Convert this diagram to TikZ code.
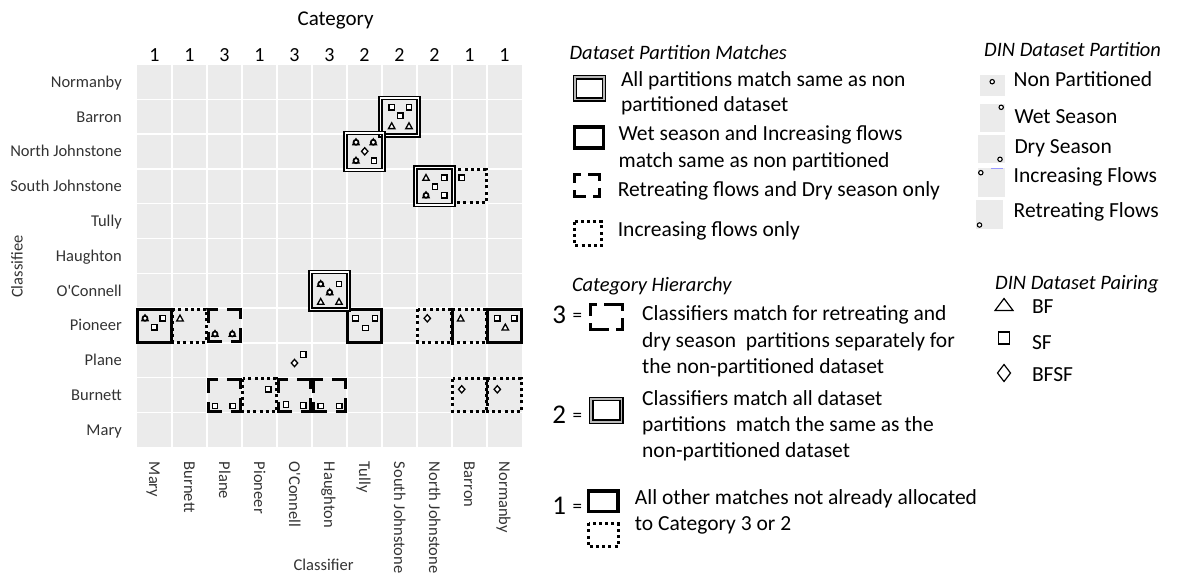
\documentclass[tikz,border=0pt]{standalone}
\usepackage{fontspec}
\setmainfont{Carlito}
\definecolor{gridbg}{HTML}{EBEBEB}
\newcommand{\mycell}[3]{\draw[#1] ({137+35*(#3)+0.9},{64.5+34.8*(#2)+0.9}) rectangle ++(33.2,33.0);}
\newcommand{\mydbl}[2]{\draw[dbl] ({137+35*(#2)-1.2},{64.5+34.8*(#1)-1.2}) rectangle ++(37.4,37.2);}
\newcommand{\mydshbox}[5]{%
  \draw[#5] (#1,#2) -- (#3,#2);
  \draw[#5] (#3,#2) -- (#3,#4);
  \draw[#5] (#3,#4) -- (#1,#4);
  \draw[#5] (#1,#4) -- (#1,#2);}
\newcommand{\mydshcell}[2]{%
  \pgfmathsetmacro\myxa{137+35*(#2)+1.5}%
  \pgfmathsetmacro\myya{64.5+34.8*(#1)+1.5}%
  \pgfmathsetmacro\myxb{\myxa+32}%
  \pgfmathsetmacro\myyb{\myya+31.8}%
  \mydshbox{\myxa}{\myya}{\myxb}{\myyb}{dshs}}
\begin{document}
\begin{tikzpicture}[x=1pt,y=-1pt,
  lbl/.style={font=\fontsize{16.5}{18}\selectfont, inner sep=0pt, text height=10.7pt, text depth=0pt, text=black!80},
  rowl/.style={lbl, anchor=east},
  coll/.style={lbl, anchor=west, rotate=-90},
  cat/.style={font=\fontsize{21}{24}\selectfont, inner sep=0pt, text height=13.6pt, text depth=0pt},
  digit/.style={font=\fontsize{20}{22}\selectfont, inner sep=0pt, text height=12.6pt, text depth=0pt},
  leg/.style={font=\fontsize{21.5}{24}\selectfont, inner sep=0pt, anchor=west, text height=13.9pt, text depth=0pt},
  hdr/.style={font=\fontsize{20.5}{24}\selectfont\itshape, inner sep=0pt, anchor=west, text height=13.2pt, text depth=0pt},
  big/.style={font=\fontsize{27}{30}\selectfont, inner sep=0pt, anchor=west, text height=17pt, text depth=0pt},
  eq/.style={font=\fontsize{19}{20}\selectfont, inner sep=0pt, anchor=west},
  thk/.style={draw=black, line width=3pt},
  dbl/.style={draw=black, line width=1.7pt, double=white, double distance=1.3pt},
  legdbl/.style={draw=black, line width=1.4pt, double=gray!55, double distance=1.8pt},
  dshs/.style={draw=black, line width=3pt, line cap=rect, dash pattern=on 8pt off 12pt on 20pt off 1pt},
  legdshs/.style={draw=black, line width=3pt, line cap=rect, dash pattern=on 5pt off 10pt on 20pt off 1pt},
  dtt/.style={draw=black, line width=3pt, dash pattern=on 3pt off 3.2pt},
  mk/.style={draw=black, line width=1.3pt, fill=white},
  gridline/.style={draw=white, line width=1.3pt},
  pc/.style={draw=black, line width=1.1pt, fill=white},
  legmk/.style={draw=black, line width=1.2pt},
  sqm/.pic={\draw[mk] (-2.7,-2.7) rectangle (2.7,2.7);},
  trm/.pic={\draw[mk] (-3.2,2.6) -- (3.2,2.6) -- (0,-3.2) -- cycle;},
  dim/.pic={\draw[mk] (0,-3.6) -- (3.2,0) -- (0,3.6) -- (-3.2,0) -- cycle;},
  flm/.pic={\draw[black, line width=1.1pt] (-3.3,2.4) -- (3.3,2.4) -- (0,-3.6) -- cycle;
            \draw[mk, line width=1.7pt] (0,0) circle (2.5);},
]
\useasboundingbox (0,0) rectangle (1182,574);

% ---------- heat-map grid ----------
\fill[gridbg] (137,64.5) rectangle (522,447.3);
\foreach \c in {1,...,10} \draw[gridline] ({137+35*\c},64.5) -- ({137+35*\c},447.3);
\foreach \r in {1,...,10} \draw[gridline] (137,{64.5+34.8*\r}) -- (522,{64.5+34.8*\r});

% titles
\node[cat] (cattitle) at (335.6,18.3) {Category};
\node[lbl] (xtitle) at (323.6,565) {Classifier};
\node[lbl, rotate=90] (ytitle) at (17.2,266.7) {Classifiee};

% category digits
\foreach \d [count=\i from 0] in {1,1,3,1,3,3,2,2,2,1,1}
  \node[digit] (dg\i) at ({154.5+35*\i},55) {\d};

% row labels
\foreach \n [count=\i from 0] in {Normanby,Barron,North Johnstone,South Johnstone,Tully,Haughton,O\textquotesingle Connell,Pioneer,Plane,Burnett,Mary}
  \node[rowl] (row\i) at (122,{81.9+34.8*\i}) {\n};

% column labels
\foreach \n [count=\i from 0] in {Mary,Burnett,Plane,Pioneer,O\textquotesingle Connell,Haughton,Tully,South Johnstone,North Johnstone,Barron,Normanby}
  \node[coll] (col\i) at ({154.5+35*\i},461.7) {\n};

% ---------- boxes ----------
\mycell{dtt}{3}{9}
\mycell{dtt}{7}{1}
\mycell{dtt}{7}{8}
\mycell{dtt}{7}{9}
\draw[black, line width=3pt] (452.9,310.5) -- (452.9,344.5);
\mycell{dtt}{9}{3}
\mycell{dtt}{9}{9}
\mycell{dtt}{9}{10}
\mydshcell{7}{2}
\mydshcell{9}{2}
\mydshcell{9}{4}
\mydshcell{9}{5}
\mycell{thk}{7}{0}
\mycell{thk}{7}{6}
\mycell{thk}{7}{10}
\mydbl{1}{7}
\mydbl{2}{6}
\mydbl{3}{8}
\mydbl{6}{5}

% ---------- markers ----------
% Barron / South Johnstone
\pic at (391.7,107.3) {sqm}; \pic at (409,107.3) {sqm}; \pic at (400.3,115.7) {sqm};
\pic at (391.7,126) {trm}; \pic at (409,126) {trm};
% North Johnstone / Tully
\pic at (356,142.3) {flm}; \pic at (373.3,142.3) {flm}; \pic at (364.7,151.3) {dim};
\pic at (356,160.7) {flm}; \pic at (374,160.7) {sqm};
% South Johnstone / North Johnstone
\pic at (426,177.7) {trm}; \pic at (444.3,177.7) {sqm}; \pic at (435,186.7) {sqm};
\pic at (426,195.3) {flm}; \pic at (444.3,195.3) {sqm};
% South Johnstone / Barron
\pic at (461.7,177.7) {sqm};
% O'Connell / Haughton
\pic at (320.7,284) {flm}; \pic at (339,284) {sqm}; \pic at (329.7,292.3) {flm};
\pic at (320.7,301.7) {trm}; \pic at (339,301.7) {trm};
% Pioneer row
\pic at (145,318.3) {flm}; \pic at (162.7,318.3) {sqm}; \pic at (154.3,327.3) {sqm};
\pic at (180,318.3) {trm};
\pic at (215,334) {flm}; \pic at (232.3,334) {flm};
\pic at (355.5,318.3) {sqm}; \pic at (375,318.3) {sqm}; \pic at (365.5,328) {sqm};
\pic at (427.3,318.3) {dim};
\pic at (460.7,318.3) {trm};
\pic at (497.3,318.3) {sqm}; \pic at (514.3,318.3) {sqm}; \pic at (505.3,327.3) {trm};
% Plane row
\pic at (294.5,363) {dim}; \pic at (303.2,354.5) {sqm};
% Burnett row
\pic at (215,406) {sqm}; \pic at (232.7,406) {sqm};
\pic at (268.3,389.3) {sqm};
\pic at (286,404.5) {sqm}; \pic at (303.3,405.5) {sqm};
\pic at (320.7,406) {sqm}; \pic at (339.3,406) {sqm};
\pic at (461.7,389.3) {dim};
\pic at (497.3,389.3) {dim};

% ---------- legend: Dataset Partition Matches ----------
\node[hdr] (h1) at (569.4,53.3) {Dataset Partition Matches};
\draw[legdbl] (575,77.3) rectangle (603.8,99.4);
\node[leg] (l1a) at (620.8,79.3) {All partitions match same as non};
\node[leg] (l1b) at (620.8,105) {partitioned dataset};
\draw[thk, line width=3.5pt] (574.5,126.8) rectangle (603.5,148.2);
\node[leg] (l2a) at (618.4,133.3) {Wet season and Increasing flows};
\node[leg] (l2b) at (618.4,161) {match same as non partitioned};
\mydshbox{574.2}{174.8}{599.7}{196.8}{legdshs}
\node[leg] (l3) at (617.6,190) {Retreating flows and Dry season only};
\draw[dtt] (574.2,221.5) rectangle (601.8,245.2);
\node[leg] (l4) at (617.6,230) {Increasing flows only};

% ---------- legend: DIN Dataset Partition ----------
\node[hdr] (h2) at (984,50) {DIN Dataset Partition};
\fill[gridbg] (980,75) rectangle (1005.3,96);
\draw[pc] (992.2,81.7) circle (2.2);
\node[leg] (p1) at (1013.5,80) {Non Partitioned};
\fill[gridbg] (980,104) rectangle (1005.3,131.7);
\draw[pc] (1001.2,107.3) circle (2.2);
\node[leg] (p2) at (1014.3,116.7) {Wet Season};
\fill[gridbg] (977.6,135) rectangle (1005.3,163.3);
\draw[pc] (1000,159.3) circle (2.2);
\node[leg] (p3) at (1014.3,146.7) {Dry Season};
\fill[gridbg] (977.6,168.3) rectangle (1005.3,196.7);
\draw[blue!40, line width=0.8pt] (991,168.6) -- (1003,168.6);
\draw[pc] (980.8,172.7) circle (2.2);
\node[leg] (p4) at (1013.5,176) {Increasing Flows};
\begin{scope}
\clip (970,200) rectangle (1010,229.3);
\fill[gridbg] (976,200) rectangle (1003.3,229.3);
\draw[pc] (979.5,225) circle (2.2);
\end{scope}
\node[leg] (p5) at (1013.5,210.7) {Retreating Flows};

% ---------- legend: Category Hierarchy ----------
\node[hdr] (h3) at (571.8,285) {Category Hierarchy};
\node[big] (n3) at (552.2,315) {3};
\node[eq] (e3) at (572.5,317) {=};
\mydshbox{590.5}{304.8}{622.2}{329.2}{legdshs}
\node[leg] (c3a) at (642,314) {Classifiers match for retreating and};
\node[leg] (c3b) at (642,341) {dry season\ \ partitions separately for};
\node[leg] (c3c) at (642,366.7) {the non-partitioned dataset};
\node[big] (n2) at (552.2,415) {2};
\node[eq] (e2) at (572.5,417) {=};
\draw[legdbl] (591.3,399) rectangle (621.4,421.7);
\node[leg] (c2a) at (642,398.3) {Classifiers match all dataset};
\node[leg] (c2b) at (642,425) {partitions\ \ match the same as the};
\node[leg] (c2c) at (642,450.7) {non-partitioned dataset};
\node[big] (n1) at (552.2,506) {1};
\node[eq] (e1) at (572.5,508) {=};
\draw[thk, line width=3.5pt] (588.7,491) rectangle (617.9,511.6);
\draw[dtt] (588.5,523.2) rectangle (618,546.8);
\node[leg] (c1a) at (634.7,497.3) {All other matches not already allocated};
\node[leg] (c1b) at (634.7,523.3) {to Category 3 or 2};

% ---------- legend: DIN Dataset Pairing ----------
\node[hdr] (h4) at (995,282.7) {DIN Dataset Pairing};
\draw[legmk] (995,310.5) -- (1013,310.5) -- (1004,298.5) -- cycle;
\node[leg] (s1) at (1031.8,306.7) {BF};
\draw[legmk] (998.5,332) rectangle (1009.5,344);
\node[leg] (s2) at (1031.8,342.7) {SF};
\draw[legmk] (1004,364.5) -- (1010.5,373) -- (1004,381.5) -- (997.5,373) -- cycle;
\node[leg] (s3) at (1031.8,375) {BFSF};
\end{tikzpicture}
\end{document}
